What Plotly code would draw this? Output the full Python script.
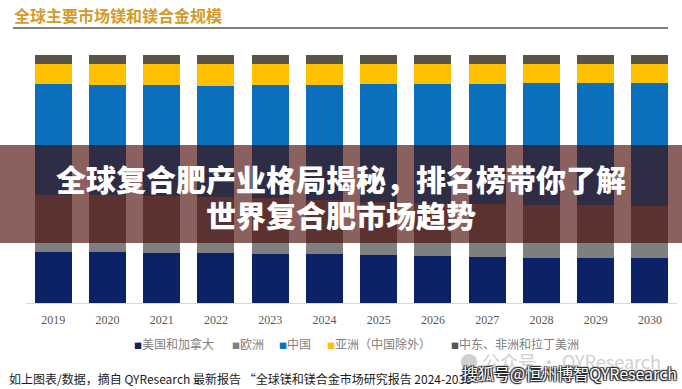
import plotly.graph_objects as go

years = ["2019", "2020", "2021", "2022", "2023", "2024", "2025", "2026", "2027", "2028", "2029", "2030"]
region_names = ["美国和加拿大", "欧洲", "中国", "亚洲（中国除外）", "中东、非洲和拉丁美洲"]
usa_canada = [20.6, 20.4, 20.2, 20.0, 19.8, 19.6, 19.4, 19.0, 18.6, 18.2, 18.2, 18.1]
europe = [23.0, 23.0, 23.0, 22.8, 22.4, 22.0, 21.4, 21.2, 21.2, 21.4, 21.4, 21.2]
china = [44.7, 44.7, 44.7, 44.9, 45.7, 46.5, 47.4, 48.2, 48.7, 49.0, 49.1, 49.5]
asia_ex_china = [8.1, 8.3, 8.5, 8.7, 8.5, 8.3, 8.2, 8.0, 7.9, 7.8, 7.7, 7.6]
mea_latam = [3.6, 3.6, 3.6, 3.6, 3.6, 3.6, 3.6, 3.6, 3.6, 3.6, 3.6, 3.6]
series = [usa_canada, europe, china, asia_ex_china, mea_latam]
colors = ["#0b2266", "#7f7f7f", "#0a6fbd", "#ffc000", "#5a5548"]

W, H = 682, 389
ML, MR, MT, MB = 26, 5, 55, 86
PW, PH = W - ML - MR, H - MT - MB

def px(x):
    return (x - ML) / PW

def py(y):
    return (H - MB - y) / PH

fig = go.Figure()
for name, vals, col in zip(region_names, series, colors):
    fig.add_trace(go.Bar(x=years, y=vals, name=name, marker_color=col,
                         marker_line_width=0, showlegend=False))

fig.update_layout(
    width=W, height=H,
    margin=dict(l=ML, r=MR, t=MT, b=MB),
    barmode="stack", barnorm="percent", bargap=0.32,
    plot_bgcolor="white", paper_bgcolor="white",
    font=dict(family="Noto Sans CJK SC"),
    xaxis=dict(showgrid=False, showline=True, linecolor="#d9d9d9", linewidth=1,
               ticks="", tickfont=dict(family="Liberation Serif", size=12, color="#595959"),
               ticklabelstandoff=6),
    yaxis=dict(visible=False, range=[0, 100]),
)

# custom legend
legend_x = [132, 230, 277, 325, 449]
for name, col, lx in zip(region_names, colors, legend_x):
    fig.add_annotation(xref="paper", yref="paper", x=px(lx), y=py(343),
                       xanchor="left", yanchor="middle", showarrow=False,
                       text=f"<span style='font-size:8px;color:{col}'>■</span>{name}",
                       font=dict(size=12, color="#808080", family="Noto Sans CJK SC"))

# title and rule
fig.add_annotation(xref="paper", yref="paper", x=px(12), y=py(15), xanchor="left", yanchor="middle",
                   showarrow=False, text="<b>全球主要市场镁和镁合金规模</b>",
                   font=dict(size=16, color="#d49a2a", family="Noto Sans CJK SC"))
fig.add_shape(type="line", xref="paper", yref="paper", x0=px(13), x1=px(668), y0=py(28), y1=py(28),
              line=dict(color="black", width=1.2))

# banner overlay
fig.add_shape(type="rect", xref="paper", yref="paper", x0=px(0), x1=px(W), y0=py(243), y1=py(145),
              fillcolor="rgba(70,5,0,0.63)", line_width=0, layer="above")
fig.add_annotation(xref="paper", yref="paper", x=px(341), y=py(178), xanchor="center", yanchor="middle",
                   showarrow=False, text="全球复合肥产业格局揭秘，排名榜带你了解",
                   font=dict(size=30, color="white", family="Noto Sans CJK SC", weight=900))
fig.add_annotation(xref="paper", yref="paper", x=px(341), y=py(214), xanchor="center", yanchor="middle",
                   showarrow=False, text="世界复合肥市场趋势",
                   font=dict(size=30, color="white", family="Noto Sans CJK SC", weight=900))

# source line and watermarks
fig.add_annotation(xref="paper", yref="paper", x=px(7), y=py(378), xanchor="left", yanchor="middle",
                   showarrow=False,
                   text="如上图表/数据，摘自 QYResearch 最新报告 “全球镁和镁合金市场研究报告 2024-2030”",
                   font=dict(size=12, color="#1a1a1a", family="Noto Sans CJK SC"))
fig.add_annotation(xref="paper", yref="paper", x=px(458), y=py(361), xanchor="left", yanchor="middle",
                   showarrow=False, text="● 公众号 · QYResearch",
                   font=dict(size=18, color="#d0d0d0", family="Noto Sans CJK SC"))
fig.add_annotation(xref="paper", yref="paper", x=px(679), y=py(373), xanchor="right", yanchor="middle",
                   showarrow=False, text="搜狐号@恒州博智QYResearch",
                   font=dict(size=16, color="white", family="Noto Sans CJK SC",
                             shadow="1px 1px 1px #222, -1px -1px 1px #222, 1px -1px 1px #222, -1px 1px 1px #222"))

fig.write_html("out.html", config={"displayModeBar": False},
               post_script="document.body.style.margin='0';document.body.style.overflow='hidden';")
